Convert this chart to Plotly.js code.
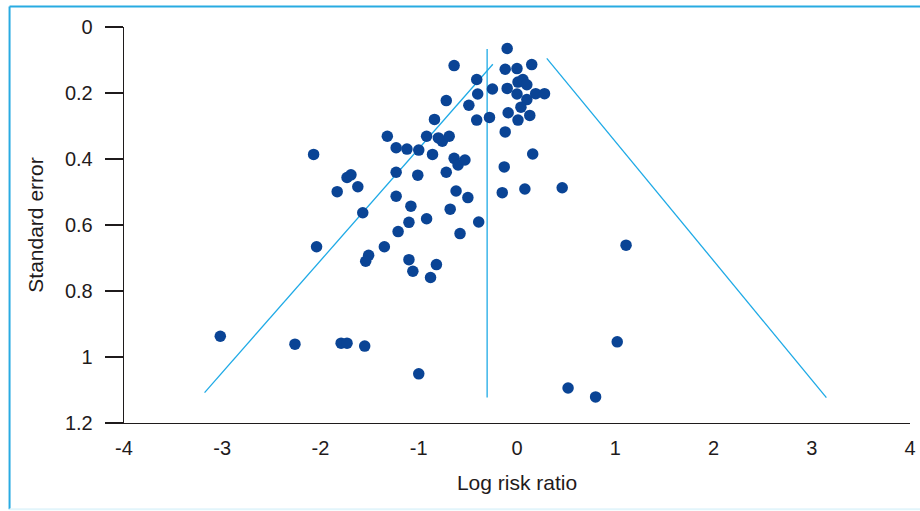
<!DOCTYPE html>
<html>
<head>
<meta charset="utf-8">
<script src="https://cdn.plot.ly/plotly-3.0.1.min.js"></script>
<style>
html,body{margin:0;padding:0;background:#fff;}
#chart{width:920px;height:511px;}
</style>
</head>
<body>
<div id="chart"></div>
<script>
// Study estimates: log risk ratio (x) and standard error (y)
const logRiskRatio = [
  -0.10,-0.64,-0.12,0.00,0.15,-0.41,-0.25,-0.10,0.01,0.06,
  0.10,0.00,-0.40,0.19,0.28,0.10,-0.72,-0.49,0.04,-0.84,
  -0.41,-0.28,-0.09,0.01,0.13,-0.12,-1.32,-0.92,-0.80,-0.76,
  -0.69,-1.23,-1.12,-1.00,-2.07,-0.86,-0.64,-0.60,-0.53,0.16,
  -1.23,-1.01,-0.72,-0.13,-1.73,-1.69,-1.83,-1.62,-0.62,-0.50,
  -0.15,0.08,0.46,-1.23,-1.08,-0.68,-1.57,-1.10,-0.92,-0.39,
  -1.21,-0.58,-2.04,-1.35,1.11,-1.51,-1.54,-1.10,-1.06,-0.82,
  -0.88,-3.02,-2.26,-1.79,-1.73,-1.55,1.02,-1.00,0.52,0.80
];
const standardError = [
  0.065,0.117,0.128,0.126,0.114,0.159,0.188,0.186,0.167,0.159,
  0.175,0.203,0.203,0.202,0.202,0.220,0.223,0.237,0.243,0.280,
  0.282,0.274,0.260,0.282,0.268,0.318,0.331,0.331,0.336,0.346,
  0.331,0.366,0.370,0.373,0.386,0.386,0.398,0.418,0.403,0.385,
  0.440,0.449,0.440,0.424,0.456,0.448,0.499,0.484,0.497,0.517,
  0.502,0.491,0.487,0.513,0.543,0.552,0.563,0.592,0.581,0.591,
  0.620,0.626,0.666,0.666,0.661,0.692,0.710,0.705,0.740,0.720,
  0.759,0.937,0.961,0.958,0.958,0.967,0.954,1.051,1.094,1.121
];
// Funnel guide lines
const leftFunnelX = [-3.18, -0.246];
const leftFunnelY = [1.108, 0.113];
const centerLineX = [-0.304, -0.304];
const centerLineY = [0.067, 1.123];
const rightFunnelX = [0.303, 3.149];
const rightFunnelY = [0.095, 1.123];

// Axis ticks
const xTickVals = [-4,-3,-2,-1,0,1,2,3,4];
const xTickText = ["-4","-3","-2","-1","0","1","2","3","4"];
const yTickVals = [0,0.2,0.4,0.6,0.8,1,1.2];
const yTickText = ["0","0.2","0.4","0.6","0.8","1","1.2"];

const lineColor = '#1eaae6';
const dotColor = '#0a4495';
const textColor = '#1f1b1c';
const fontFam = '"Liberation Sans Narrow", "Arial Narrow", "Liberation Sans", Arial, sans-serif';

const traces = [
  {x: leftFunnelX, y: leftFunnelY, mode: 'lines', line: {color: lineColor, width: 1.3}, hoverinfo: 'skip', showlegend: false},
  {x: centerLineX, y: centerLineY, mode: 'lines', line: {color: lineColor, width: 1.3}, hoverinfo: 'skip', showlegend: false},
  {x: rightFunnelX, y: rightFunnelY, mode: 'lines', line: {color: lineColor, width: 1.3}, hoverinfo: 'skip', showlegend: false},
  {x: logRiskRatio, y: standardError, mode: 'markers', type: 'scatter',
   marker: {color: dotColor, size: 11.5, line: {width: 0}}, showlegend: false}
];

const layout = {
  width: 920, height: 511,
  margin: {l: 124, r: 10, t: 27, b: 88},
  paper_bgcolor: '#ffffff', plot_bgcolor: '#ffffff',
  font: {family: fontFam, size: 20, color: textColor},
  showlegend: false,
  xaxis: {
    range: [-4, 4], tickvals: xTickVals, ticktext: xTickText,
    showgrid: false, zeroline: false, showline: true, linecolor: textColor, linewidth: 1.3,
    ticks: '', ticklabelstandoff: 7,
    tickfont: {family: fontFam, size: 20, color: textColor},
    title: {text: 'Log risk ratio', standoff: 17, font: {family: fontFam, size: 21, color: textColor}}
  },
  yaxis: {
    range: [1.2, 0], tickvals: yTickVals, ticktext: yTickText,
    showgrid: false, zeroline: false, showline: true, linecolor: textColor, linewidth: 1.3,
    ticks: 'outside', ticklen: 18, tickwidth: 1.3, tickcolor: textColor, ticklabelstandoff: 8,
    tickfont: {family: fontFam, size: 20, color: textColor},
    title: {text: 'Standard error', standoff: 15, font: {family: fontFam, size: 21, color: textColor}}
  },
  shapes: [
    {type: 'line', xref: 'paper', yref: 'paper', x0: -0.1456, x1: -0.1456, y0: 1.052, y1: -0.218, line: {color: '#29abe2', width: 2}},
    {type: 'line', xref: 'paper', yref: 'paper', x0: -0.1456, x1: 1.02, y0: 1.052, y1: 1.052, line: {color: '#29abe2', width: 2}},
    {type: 'line', xref: 'paper', yref: 'paper', x0: -0.1456, x1: 1.02, y0: -0.218, y1: -0.218, line: {color: '#e2f5fb', width: 2}}
  ]
};

Plotly.newPlot('chart', traces, layout, {displayModeBar: false, staticPlot: true});
</script>
</body>
</html>
